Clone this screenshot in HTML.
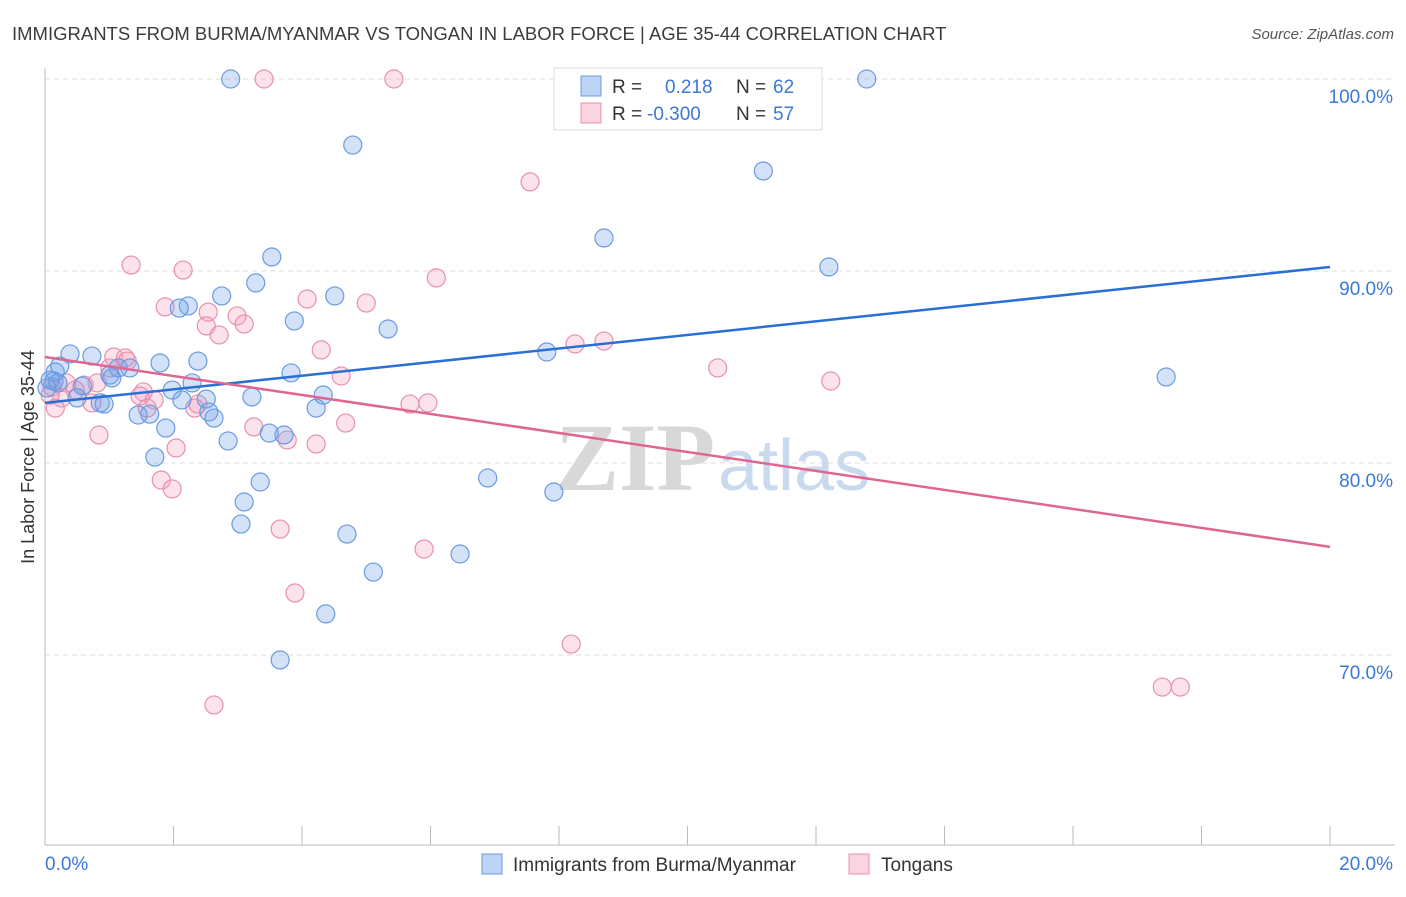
<!DOCTYPE html>
<html><head><meta charset="utf-8"><style>
body{margin:0;background:#fff;font-family:"Liberation Sans",sans-serif;}
</style></head><body>
<svg id="c" width="1406" height="892" xmlns="http://www.w3.org/2000/svg" font-family="Liberation Sans, sans-serif">
<text x="12" y="40" font-size="18.5" fill="#3c3c3c">IMMIGRANTS FROM BURMA/MYANMAR VS TONGAN IN LABOR FORCE | AGE 35-44 CORRELATION CHART</text>
<text x="1394" y="39" font-size="15" fill="#555" font-style="italic" text-anchor="end">Source: ZipAtlas.com</text>
<g><text x="555" y="490" font-size="96" fill="#d8d8d8" font-family="Liberation Serif, serif" font-weight="bold">ZIP</text><text x="718" y="490" font-size="72" fill="#c9d9ee">atlas</text></g>
<g id="grid"></g><g id="axes"></g><g id="pts"></g><g id="lines"></g>
<g>
<rect x="554" y="68" width="268" height="62" fill="#fff" stroke="#ddd"/>
<rect x="581" y="76" width="20" height="20" fill="rgba(110,160,235,0.45)" stroke="#6a9be0"/>
<rect x="581" y="103" width="20" height="20" fill="rgba(245,160,190,0.45)" stroke="#e890ad"/>
<text x="612" y="93" font-size="19" fill="#333">R = </text><text x="665" y="93" font-size="19" fill="#3b78d8">0.218</text>
<text x="736" y="93" font-size="19" fill="#333">N = </text><text x="773" y="93" font-size="19" fill="#3b78d8">62</text>
<text x="612" y="120" font-size="19" fill="#333">R = </text><text x="647" y="120" font-size="19" fill="#3b78d8">-0.300</text>
<text x="736" y="120" font-size="19" fill="#333">N = </text><text x="773" y="120" font-size="19" fill="#3b78d8">57</text>
</g>
<g>
<rect x="482" y="854" width="20" height="20" fill="rgba(110,160,235,0.45)" stroke="#6a9be0"/>
<text x="513" y="871" font-size="19" fill="#333">Immigrants from Burma/Myanmar</text>
<rect x="849" y="854" width="20" height="20" fill="rgba(245,160,190,0.45)" stroke="#e890ad"/>
<text x="881" y="871" font-size="19" fill="#333">Tongans</text>
</g>
<text transform="translate(34,457) rotate(-90)" font-size="18" fill="#333" text-anchor="middle">In Labor Force | Age 35-44</text>
</svg>
<script>
const blueX=[2.89,12.79,4.79,11.18,8.70,3.53,12.20,3.28,2.75,4.51,2.23,2.09,3.88,5.34,7.81,0.39,0.73,1.79,2.38,0.23,1.14,1.32,3.83,17.45,1.04,2.29,0.14,0.58,1.98,3.22,4.33,2.13,2.51,0.50,0.86,0.92,2.55,4.22,1.45,1.63,2.63,1.88,3.49,3.72,2.85,1.71,6.89,3.35,7.92,3.10,3.05,4.70,6.46,5.11,4.37,3.66,0.08,0.20,0.03,0.16,1.01];
const blueY=[100,100,96.56,95.21,91.72,90.73,90.21,89.38,88.70,88.70,88.18,88.07,87.40,86.98,85.78,85.68,85.57,85.21,85.31,85.05,84.95,84.95,84.69,84.48,84.43,84.17,84.27,84.01,83.80,83.44,83.54,83.28,83.33,83.39,83.13,83.07,82.66,82.86,82.50,82.55,82.34,81.82,81.56,81.46,81.15,80.31,79.22,79.01,78.49,77.97,76.82,76.30,75.26,74.32,72.14,69.74,84.32,84.17,83.91,84.74,84.58];
const pinkX=[3.41,5.43,7.55,1.34,2.15,6.09,4.08,5.00,1.87,2.54,2.99,3.10,2.51,2.71,4.30,8.70,8.25,1.07,1.25,1.28,1.01,10.47,4.61,12.23,0.81,0.61,0.33,0.11,0.47,1.53,1.48,0.26,1.70,0.73,1.59,2.33,2.38,5.68,5.96,0.16,4.68,0.84,3.25,3.77,4.22,2.04,1.81,1.98,3.66,5.90,3.89,8.19,2.63,17.39,17.67,0.08];
const pinkY=[100,100,94.64,90.31,90.05,89.64,88.54,88.33,88.13,87.86,87.66,87.24,87.14,86.67,85.89,86.35,86.20,85.52,85.47,85.31,84.95,84.95,84.53,84.27,84.17,84.06,84.17,83.96,83.80,83.70,83.49,83.39,83.28,83.13,82.86,82.86,83.07,83.07,83.13,82.86,82.08,81.46,81.88,81.20,80.99,80.78,79.11,78.65,76.56,75.52,73.23,70.57,67.40,68.33,68.33,83.54];
const blueTrend=[83.13,90.21];
const pinkTrend=[85.52,75.63];
const yTicks=[100,90,80,70];
const yTickLabels=["100.0%","90.0%","80.0%","70.0%"];
const xLabels=["0.0%","20.0%"];
const NS="http://www.w3.org/2000/svg";
const sx=v=>45+v*64.25, sy=v=>79+(100-v)*19.2;
function mk(t,a,p){const e=document.createElementNS(NS,t);for(const k in a)e.setAttribute(k,a[k]);document.getElementById(p).appendChild(e);return e;}
yTicks.forEach((t,i)=>{
 const l=mk('line',{x1:45,x2:1395,y1:sy(t),y2:sy(t),stroke:'#ddd','stroke-dasharray':'5,4'},'grid');
 
 
 const tx=mk('text',{x:1393,y:sy(t)+24,'font-size':19,fill:'#3b78d8','text-anchor':'end'},'axes');tx.textContent=yTickLabels[i];
 
 
});
let a=mk('line',{x1:45,x2:45,y1:68,y2:845,stroke:'#bbb'},'axes');


a=mk('line',{x1:45,x2:1395,y1:845,y2:845,stroke:'#bbb'},'axes');


for(let k=1;k<=10;k++){const t=mk('line',{x1:sx(k*2),x2:sx(k*2),y1:826,y2:845,stroke:'#bbb'},'axes');
 
 }
[[0,'start',45],[20,'end',1393]].forEach((d,i)=>{const t=mk('text',{x:d[2],y:870,'font-size':19,fill:'#3b78d8','text-anchor':d[1]},'axes');t.textContent=xLabels[i];
 
 });
function pts(X,Y,fill,stroke,name){X.forEach((x,i)=>{const c=mk('circle',{cx:sx(x),cy:sy(Y[i]),r:9,fill:fill,stroke:stroke,'stroke-width':1.2},'pts');
 
 });}
pts(pinkX,pinkY,'rgba(245,160,190,0.3)','#e890ad','tongan-point');
pts(blueX,blueY,'rgba(110,160,235,0.3)','#6a9be0','burma-point');
let ln=mk('line',{x1:sx(0),y1:sy(blueTrend[0]),x2:sx(20),y2:sy(blueTrend[1]),stroke:'#2a6fd6','stroke-width':2.5},'lines');


ln=mk('line',{x1:sx(0),y1:sy(pinkTrend[0]),x2:sx(20),y2:sy(pinkTrend[1]),stroke:'#e06690','stroke-width':2.5},'lines');


</script>
</body></html>
